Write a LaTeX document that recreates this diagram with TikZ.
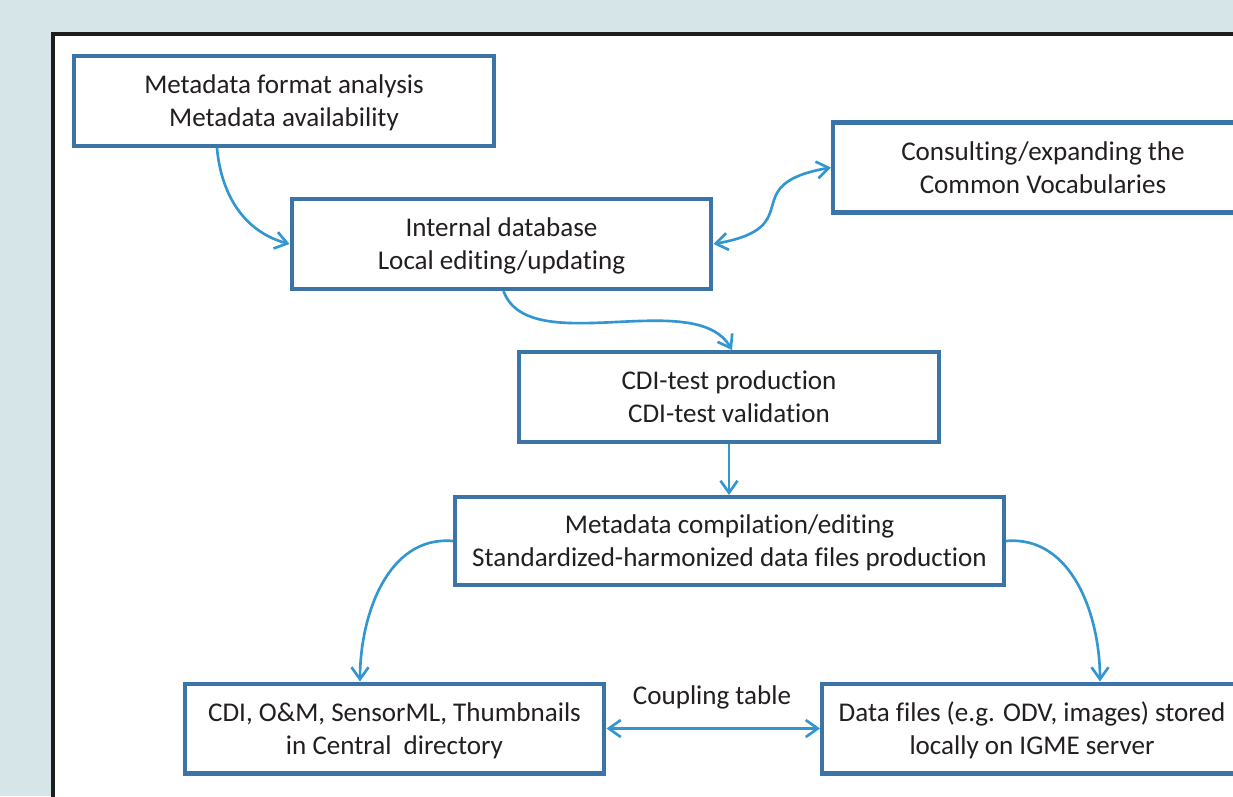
\documentclass[tikz,border=0pt]{standalone}
\usepackage{fontspec}
\setmainfont{Carlito}[Ligatures=NoCommon,Contextuals=NoAlternate]
\usetikzlibrary{arrows.meta,calc}
\definecolor{PaleTeal}{RGB}{214,230,232}
\definecolor{BoxBlue}{RGB}{59,117,167}
\definecolor{FlowBlue}{RGB}{50,150,208}
\definecolor{InkGray}{RGB}{35,31,32}
\definecolor{FrameBlack}{RGB}{30,30,30}
\tikzset{
  >={Straight Barb[length=2.4mm,width=3.4mm]},
  stage/.style={draw=BoxBlue,line width=2.3pt,fill=white,align=center,text=InkGray,font=\fontsize{15.4}{18.8}\selectfont,minimum width=8.4cm,minimum height=1.8cm,inner sep=2pt,text depth=0pt},
  tag/.style={text=InkGray,font=\fontsize{15.4}{18.8}\selectfont},
  flow/.style={->,line width=1.5pt,draw=FlowBlue},
  dualflow/.style={<->,line width=1.5pt,draw=FlowBlue}
}
\begin{document}
\begin{tikzpicture}[x=0.02cm,y=-0.02cm]
  \clip (0,0) rectangle (1233,796);
  \fill[PaleTeal] (0,0) rectangle (1233,796);
  \draw[FrameBlack,line width=2.8pt,fill=white] (53,34) rectangle (1270,830);
  % stages
  \node[stage] (analysis) at (284,101) {Metadata format analysis\\Metadata availability};
  \node[stage] (internal) at (501.5,244) {Internal database\\Local editing/updating};
  \node[stage] (vocab) at (1043,167.5) {Consulting/expanding the\\Common Vocabularies};
  \node[stage] (cditest) at (729,397) {CDI-test production\\CDI-test validation};
  \node[stage,minimum width=10.98cm,minimum height=1.76cm] (compile) at (729.5,541) {Metadata compilation/editing\\Standardized-harmonized data files production};
  \node[stage] (central) at (394.5,728.5) {CDI, O\&M, SensorML, Thumbnails\\in Central\ \ directory};
  \node[stage] (local) at (1032,728.5) {Data files (e.g. ODV, images) stored\\locally on IGME server};
  \node[tag] (coupling) at (712,697) {Coupling table};
  % connectors
  \draw[flow] ([xshift=-1.34cm]analysis.south) to[out=-85,in=165] (internal.west);
  \draw[dualflow] (internal.east) to[out=10,in=190,looseness=1.8] (vocab.west);
  \draw[flow] ([xshift=0.04cm]internal.south) to[out=-70,in=120,looseness=0.8] ([xshift=0.06cm]cditest.north);
  \draw[flow] (cditest.south) -- (cditest.south |- compile.north);
  \draw[flow] (compile.west) to[out=175,in=90] ([xshift=-0.69cm]central.north);
  \draw[flow] (compile.east) to[out=5,in=90] ([xshift=1.36cm]local.north);
  \draw[dualflow] (central.east) -- (local.west);
\end{tikzpicture}
\end{document}
